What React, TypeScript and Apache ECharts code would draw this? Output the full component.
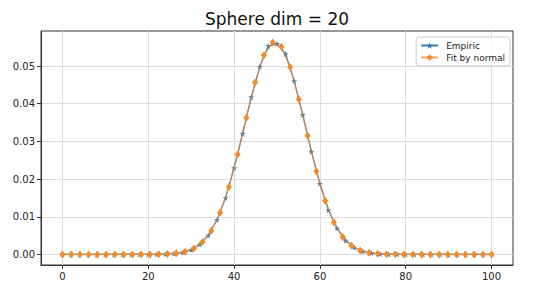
import React, { useEffect, useRef } from "react";
import * as echarts from "echarts";

const empiricX = [0, 2, 4, 6, 8, 10, 12, 14, 16, 18, 20, 22, 24, 26, 28, 30, 32, 34, 36, 38, 40, 42, 44, 46, 48, 50, 52, 54, 56, 58, 60, 62, 64, 66, 68, 70, 72, 74, 76, 78, 80, 82, 84, 86, 88, 90, 92, 94, 96, 98, 100];
const empiricY = [0, 0, 0, 0, 0, 0, 0, 0, 0, 0, 0.00001, 0.00003, 0.00008, 0.00023, 0.00056, 0.00125, 0.00266, 0.00509, 0.00915, 0.01500, 0.02293, 0.03210, 0.04175, 0.04985, 0.05530, 0.05590, 0.05320, 0.04600, 0.03705, 0.02735, 0.01878, 0.01180, 0.00692, 0.00369, 0.00185, 0.00083, 0.00036, 0.00014, 0.00005, 0.00002, 0, 0, 0, 0, 0, 0, 0, 0, 0, 0, 0];

const fitX = [0, 2.04, 4.08, 6.12, 8.16, 10.2, 12.24, 14.29, 16.33, 18.37, 20.41, 22.45, 24.49, 26.53, 28.57, 30.61, 32.65, 34.69, 36.73, 38.78, 40.82, 42.86, 44.9, 46.94, 48.98, 51.02, 53.06, 55.1, 57.14, 59.18, 61.22, 63.27, 65.31, 67.35, 69.39, 71.43, 73.47, 75.51, 77.55, 79.59, 81.63, 83.67, 85.71, 87.76, 89.8, 91.84, 93.88, 95.92, 97.96, 100];
const fitY = [0, 0, 0, 0, 0, 0, 0, 0, 0, 0, 0.00001, 0.00004, 0.00011, 0.00029, 0.00071, 0.00159, 0.00330, 0.00630, 0.01104, 0.01788, 0.02657, 0.03631, 0.04565, 0.05285, 0.05628, 0.05514, 0.04972, 0.04122, 0.03147, 0.02211, 0.01428, 0.00848, 0.00463, 0.00233, 0.00108, 0.00046, 0.00018, 0.00007, 0.00002, 0, 0, 0, 0, 0, 0, 0, 0, 0, 0, 0];

const xTicks = [0, 20, 40, 60, 80, 100];
const yTicks = [0, 0.01, 0.02, 0.03, 0.04, 0.05];

const titleText = "Sphere dim = 20";
const seriesNames = ["Empiric", "Fit by normal"];

const STAR = "path://M0,-10 L2.35,-3.24 L9.51,-3.09 L3.8,1.24 L5.88,8.09 L0,4 L-5.88,8.09 L-3.8,1.24 L-9.51,-3.09 L-2.35,-3.24 Z";

export default function App() {
  const ref = useRef<HTMLDivElement>(null);
  useEffect(() => {
    if (!ref.current) return;
    const chart = echarts.init(ref.current, undefined, { renderer: "svg" });
    const font = "DejaVu Sans";
    const axisCommon = {
      type: "value" as const,
      axisLine: { show: true, onZero: false, lineStyle: { color: "#333", width: 1 } },
      axisTick: { show: true, length: 4, lineStyle: { color: "#333" } },
      splitLine: { show: true, lineStyle: { color: "#dcdcdc", width: 1 } },
    };
    chart.setOption({
      animation: false,
      backgroundColor: "#fff",
      graphic: [
        {
          type: "text",
          x: 277,
          y: 19,
          style: {
            text: titleText,
            font: `17px ${font}`,
            fill: "#111",
            textAlign: "center",
            textVerticalAlign: "middle",
          },
        },
      ],
      legend: {
        orient: "vertical",
        right: 30,
        top: 37,
        padding: [4, 5, 4, 4],
        itemGap: 3,
        itemWidth: 17,
        itemHeight: 8,
        borderColor: "#ccc",
        borderWidth: 1,
        borderRadius: 3,
        backgroundColor: "rgba(255,255,255,0.8)",
        textStyle: { fontFamily: font, fontSize: 9, color: "#222", padding: [0, 0, 0, 3] },
        data: seriesNames,
      },
      grid: {
        left: 41,
        right: 27,
        top: 31,
        bottom: 27,
        show: true,
        borderColor: "#333",
        borderWidth: 1,
        backgroundColor: "transparent",
      },
      xAxis: {
        ...axisCommon,
        min: -5,
        max: 105,
        axisTick: { ...axisCommon.axisTick, customValues: xTicks },
        axisLabel: { customValues: xTicks, fontFamily: font, fontSize: 10, color: "#222", margin: 6 },
      },
      yAxis: {
        ...axisCommon,
        min: -0.0028,
        max: 0.0593,
        axisTick: { ...axisCommon.axisTick, customValues: yTicks },
        axisLabel: {
          customValues: yTicks,
          fontFamily: font,
          fontSize: 10,
          color: "#222",
          margin: 6,
          formatter: (v: number) => v.toFixed(2),
        },
      },
      series: [
        {
          name: seriesNames[0],
          type: "line",
          data: empiricX.map((x, i) => [x, empiricY[i]]),
          symbol: STAR,
          symbolSize: 6,
          showAllSymbol: true,
          itemStyle: { color: "#3f7aa6" },
          lineStyle: { color: "#3f7aa6", width: 1.3 },
          z: 2,
        },
        {
          name: seriesNames[1],
          type: "line",
          data: fitX.map((x, i) => [x, fitY[i]]),
          symbol: "diamond",
          symbolSize: [6, 8],
          showAllSymbol: true,
          itemStyle: { color: "#f28a2e" },
          lineStyle: { color: "#f28a2e", width: 1.2, opacity: 0.75 },
          z: 3,
        },
      ],
    });
    return () => chart.dispose();
  }, []);
  return (
    <div
      ref={ref}
      style={{ position: "absolute", left: 0, top: 0, width: 540, height: 292 }}
    />
  );
}
